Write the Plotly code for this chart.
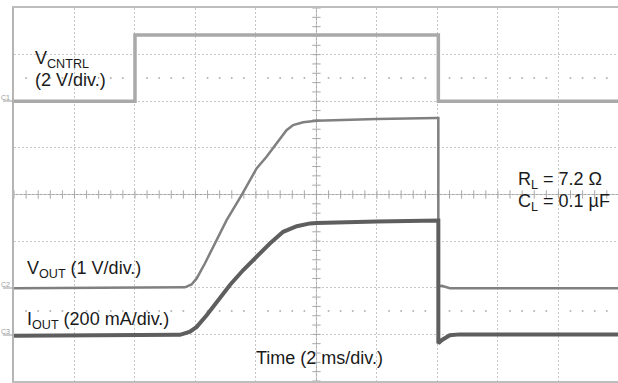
import numpy as np
import plotly.graph_objects as go

# time in ms (2 ms/div), levels in scope divisions
t_cntrl = [0, 4.0, 4.0, 14.03, 14.03, 19.97]
v_cntrl = [2.0, 2.0, 3.42, 3.42, 2.0, 2.0]

t_vout = [0, 5.65, 5.87, 6.04, 6.31, 6.64, 7.03, 7.53, 7.80, 8.02, 8.35, 8.68,
          9.01, 9.23, 9.56, 10.0, 11.99, 13.97, 14.03, 14.03, 14.15, 14.41, 19.97]
v_vout = [-2.01, -1.99, -1.93, -1.80, -1.48, -1.05, -0.55, -0.01, 0.31, 0.56, 0.81, 1.10,
          1.38, 1.49, 1.55, 1.58, 1.62, 1.64, 1.64, -1.97, -1.96, -2.01, -2.01]

t_iout = [0, 5.49, 5.82, 6.04, 6.37, 6.75, 7.14, 7.58, 8.02, 8.46, 8.90, 9.35,
          9.79, 10.0, 11.99, 13.97, 14.03, 14.03, 14.15, 14.41, 14.74, 19.97]
v_iout = [-3.03, -3.01, -2.94, -2.84, -2.59, -2.26, -1.94, -1.62, -1.33, -1.05, -0.80, -0.68,
          -0.62, -0.61, -0.58, -0.56, -0.56, -3.19, -3.12, -3.02, -3.0, -3.0]

X_MAX = 19.97
FONT = "Liberation Sans, Arial, sans-serif"
GRID = "#c6c6c6"
AXIS = "#a8a8a8"

L, T, W, H = 14, 8, 604, 373


def px(x):
    return (x - L) / W


def py(y):
    return (T + H - y) / H


fig = go.Figure()

# center axis ticks and marker rows
minor_x = np.round(np.arange(0, 20.01, 0.4), 2)
minor_y = np.round(np.arange(-4, 4.01, 0.2), 2)
fig.add_trace(go.Scatter(x=minor_x, y=[0] * len(minor_x), mode="markers", hoverinfo="skip",
                         marker=dict(symbol="line-ns", size=6, line=dict(width=1, color=AXIS))))
fig.add_trace(go.Scatter(x=[10] * len(minor_y), y=minor_y, mode="markers", hoverinfo="skip",
                         marker=dict(symbol="line-ew", size=6, line=dict(width=1, color=AXIS))))
dots_x = [v for v in minor_x if abs(v / 2 - round(v / 2)) > 1e-6]
for lvl in (2.5, -2.5):
    fig.add_trace(go.Scatter(x=dots_x, y=[lvl] * len(dots_x), mode="markers", hoverinfo="skip",
                             marker=dict(size=2, color="#b4b4b4")))

fig.add_trace(go.Scatter(x=t_cntrl, y=v_cntrl, mode="lines", line=dict(color="#a9a9a9", width=3.5)))
fig.add_trace(go.Scatter(x=t_vout, y=v_vout, mode="lines", line=dict(color="#808080", width=2.5)))
fig.add_trace(go.Scatter(x=t_iout, y=v_iout, mode="lines", line=dict(color="#5e5e5e", width=4)))

fig.add_shape(type="line", x0=0, x1=X_MAX, y0=0, y1=0, line=dict(color=AXIS, width=1), layer="below")
fig.add_shape(type="line", x0=10, x1=10, y0=-4, y1=4, line=dict(color=AXIS, width=1), layer="below")


def label(text, x, y, size=18, anchor="left"):
    fig.add_annotation(text=text, x=px(x), y=py(y), xref="paper", yref="paper",
                       xanchor=anchor, yanchor="middle", showarrow=False,
                       font=dict(family=FONT, size=size, color="#1a1a1a"))


label("V<sub>CNTRL</sub>", 33, 60)
label("(2 V/div.)", 33, 80)
label("V<sub>OUT</sub> (1 V/div.)", 25, 269)
label("I<sub>OUT</sub> (200 mA/div.)", 25, 320)
label("R<sub>L</sub> = 7.2 Ω", 516, 180)
label("C<sub>L</sub> = 0.1 µF", 516, 202)
label("Time (2 ms/div.)", 319, 358, anchor="center")

for name, lvl in (("C1", 101), ("C2", 288), ("C3", 335)):
    fig.add_annotation(text=name, x=px(12), y=py(lvl - 4), xref="paper", yref="paper",
                       xanchor="right", yanchor="middle", showarrow=False,
                       font=dict(family=FONT, size=7, color="#9a9a9a"))
    fig.add_shape(type="line", xref="paper", yref="paper", x0=px(3), x1=px(13),
                  y0=py(lvl), y1=py(lvl), line=dict(color="#9a9a9a", width=1))

fig.update_xaxes(range=[0, X_MAX], showgrid=True, dtick=2, tick0=0, gridcolor=GRID,
                 griddash="2px,2px", gridwidth=1, showticklabels=False, ticks="",
                 zeroline=False, showline=True, mirror=True, linecolor="#bdbdbd", linewidth=2)
fig.update_yaxes(range=[-4, 4], showgrid=True, dtick=1, tick0=0, gridcolor=GRID,
                 griddash="2px,2px", gridwidth=1, showticklabels=False, ticks="",
                 zeroline=False, showline=True, mirror=False, linecolor="#b5b5b5", linewidth=1.5)

fig.update_layout(width=618, height=383, margin=dict(l=L, r=0, t=T, b=2),
                  plot_bgcolor="white", paper_bgcolor="white", showlegend=False)

fig.write_html("out.html", config={"displayModeBar": False},
               post_script="document.body.style.margin='0';")
